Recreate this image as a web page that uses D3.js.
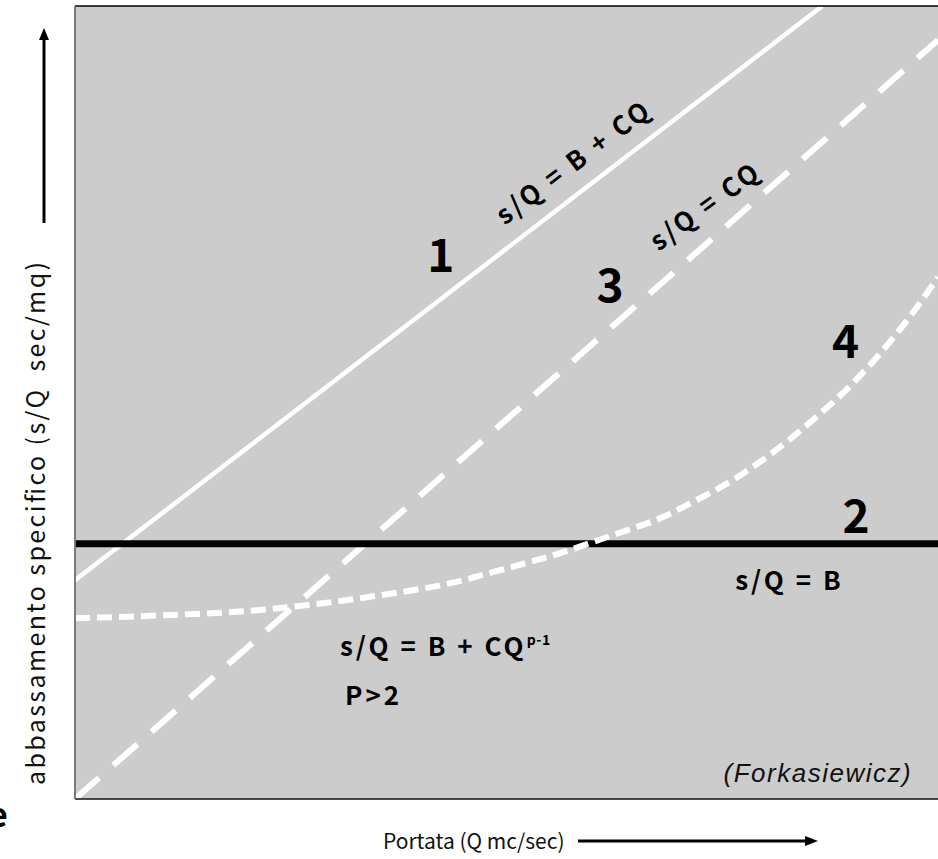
<!DOCTYPE html>
<html>
<head>
<meta charset="utf-8">
<script src="https://cdn.jsdelivr.net/npm/d3@7"></script>
<style>
  html, body { margin: 0; padding: 0; background: #fff; }
  svg { display: block; }
</style>
</head>
<body>
<svg id="chart" width="938" height="859"></svg>
<script>
// ---------- data (abstract units: Q on x, s/Q on y, both 0..10) ----------
const xDomain = [0, 10];
const yDomain = [0, 10];

// 1: s/Q = B + CQ  (solid white)
const line1X = [0, 8.66];
const line1Y = [2.76, 10];
// 2: s/Q = B (black horizontal)
const line2X = [0, 10];
const line2Y = [3.22, 3.22];
// 3: s/Q = CQ (dashed white)
const line3X = [0, 10];
const line3Y = [0, 9.57];
// 4: s/Q = B + CQ^(p-1), p>2 (dotted white curve)
const curve4X = [0, 1.10, 2.11, 2.57, 3.42, 4.50, 4.84, 5.24, 5.62, 6.00, 6.40, 6.78, 7.13, 7.59, 8.05, 8.55, 9.02, 9.33, 9.68, 10.0];
const curve4Y = [2.28, 2.32, 2.38, 2.43, 2.55, 2.76, 2.86, 2.98, 3.10, 3.24, 3.39, 3.54, 3.73, 4.00, 4.34, 4.78, 5.25, 5.62, 6.09, 6.58];

// text
const curveNumbers = ["1", "2", "3", "4"];
const formulaTexts = ["s/Q = B + CQ", "s/Q = B", "s/Q = CQ", "s/Q = B + CQ", "P>2"];
const superscript = "p-1";
const sourceText = "(Forkasiewicz)";
const xLabel = "Portata (Q mc/sec)";
const yLabel = "abbassamento specifico (s/Q  sec/mq)";

// ---------- layout ----------
const svg = d3.select("#chart");
const plot = { left: 75, right: 938, top: 6, bottom: 799 };
const x = d3.scaleLinear().domain(xDomain).range([plot.left, plot.right]);
const y = d3.scaleLinear().domain(yDomain).range([plot.bottom, plot.top]);

const boldFont = "'Noto Sans CJK JP', 'Noto Sans', sans-serif";
const lightFont = "'Noto Sans CJK JP', 'Noto Sans', sans-serif";
const formulaSpacing = 3;

svg.append("defs").append("clipPath").attr("id", "plotClip")
  .append("rect")
  .attr("x", plot.left).attr("y", plot.top)
  .attr("width", plot.right - plot.left).attr("height", plot.bottom - plot.top);

// background
svg.append("rect")
  .attr("x", plot.left).attr("y", plot.top)
  .attr("width", plot.right - plot.left).attr("height", plot.bottom - plot.top)
  .attr("fill", "#cccccc");

const g = svg.append("g").attr("clip-path", "url(#plotClip)");
const lineGen = d3.line().x(d => x(d[0])).y(d => y(d[1]));
const curveGen = d3.line().x(d => x(d[0])).y(d => y(d[1])).curve(d3.curveMonotoneX);
const zip = (a, b) => a.map((v, i) => [v, b[i]]);

g.append("path").datum(zip(line1X, line1Y)).attr("d", lineGen)
  .attr("fill", "none").attr("stroke", "#fff").attr("stroke-width", 4.5);

g.append("path").datum(zip(line3X, line3Y)).attr("d", lineGen)
  .attr("fill", "none").attr("stroke", "#fff").attr("stroke-width", 6)
  .attr("stroke-dasharray", "32,19");

g.append("path").datum(zip(line2X, line2Y)).attr("d", lineGen)
  .attr("fill", "none").attr("stroke", "#000").attr("stroke-width", 7);

g.append("path").datum(zip(curve4X, curve4Y)).attr("d", curveGen)
  .attr("fill", "none").attr("stroke", "#fff").attr("stroke-width", 6)
  .attr("stroke-dasharray", "15,7");

// frame
svg.append("line").attr("x1", plot.left).attr("x2", plot.right)
  .attr("y1", plot.top).attr("y2", plot.top).attr("stroke", "#000").attr("stroke-width", 1.5);
svg.append("line").attr("x1", plot.left).attr("x2", plot.right)
  .attr("y1", plot.bottom).attr("y2", plot.bottom).attr("stroke", "#111").attr("stroke-width", 1.5);
svg.append("line").attr("x1", plot.left).attr("x2", plot.left)
  .attr("y1", plot.top).attr("y2", plot.bottom).attr("stroke", "#7a7a7a").attr("stroke-width", 2);

// curve numbers
const numberPos = [[4.24, 6.65], [9.05, 3.35], [6.20, 6.27], [8.93, 5.56]];
svg.selectAll("text.num").data(curveNumbers).enter().append("text")
  .attr("class", "num")
  .attr("x", (d, i) => x(numberPos[i][0]))
  .attr("y", (d, i) => y(numberPos[i][1]))
  .attr("text-anchor", "middle")
  .attr("font-family", boldFont).attr("font-weight", "bold")
  .attr("font-size", 46).attr("fill", "#000")
  .text(d => d);

function formula(sel) {
  return sel.attr("font-family", boldFont).attr("font-weight", "bold")
    .attr("font-size", 26).attr("letter-spacing", formulaSpacing)
    .style("white-space", "pre");
}

// rotated formulas
const rot1 = [4.98, 7.23], rot3 = [6.76, 6.90];
formula(svg.append("text")
  .attr("transform", `translate(${x(rot1[0])},${y(rot1[1])}) rotate(-37)`))
  .text(formulaTexts[0]);
formula(svg.append("text")
  .attr("transform", `translate(${x(rot3[0])},${y(rot3[1])}) rotate(-36)`))
  .text(formulaTexts[2]);

// horizontal formulas
formula(svg.append("text").attr("x", x(7.65)).attr("y", y(2.64)))
  .text(formulaTexts[1]);

const f4 = formula(svg.append("text").attr("x", x(3.07)).attr("y", y(1.80)));
f4.append("tspan").text(formulaTexts[3]);
f4.append("tspan").attr("font-size", 14).attr("letter-spacing", 0.5).attr("dy", -11).text(superscript);

formula(svg.append("text").attr("x", x(3.13)).attr("y", y(1.19)))
  .text(formulaTexts[4]);

// source
svg.append("text")
  .attr("x", x(9.70)).attr("y", y(0.21))
  .attr("text-anchor", "end")
  .attr("font-family", "'Liberation Sans', Arial, sans-serif").attr("font-style", "italic")
  .attr("font-size", 26).attr("letter-spacing", 1.5).attr("fill", "#111")
  .text(sourceText);

// x label and arrow
svg.append("text")
  .attr("x", 383).attr("y", 849)
  .attr("font-family", lightFont).attr("font-size", 21).attr("fill", "#111")
  .text(xLabel);
svg.append("line").attr("x1", 578).attr("x2", 806).attr("y1", 841).attr("y2", 841)
  .attr("stroke", "#000").attr("stroke-width", 3);
svg.append("path").attr("d", "M818,841 L805,836 L805,846 Z").attr("fill", "#000");

// y label and arrow
svg.append("text")
  .attr("transform", "translate(45,262) rotate(-90)")
  .attr("x", -523).attr("y", 0)
  .attr("textLength", 523).attr("lengthAdjust", "spacing")
  .style("white-space", "pre")
  .attr("font-family", lightFont).attr("font-size", 25).attr("fill", "#111")
  .text(yLabel);
svg.append("line").attr("x1", 44).attr("x2", 44).attr("y1", 223).attr("y2", 38)
  .attr("stroke", "#000").attr("stroke-width", 3);
svg.append("path").attr("d", "M44,28 L39,40 L49,40 Z").attr("fill", "#000");

// glyph cropped by the left edge in the source image
svg.append("text")
  .attr("x", -12).attr("y", 827)
  .attr("font-family", boldFont).attr("font-weight", "bold").attr("font-size", 34)
  .text("e");
</script>
</body>
</html>
